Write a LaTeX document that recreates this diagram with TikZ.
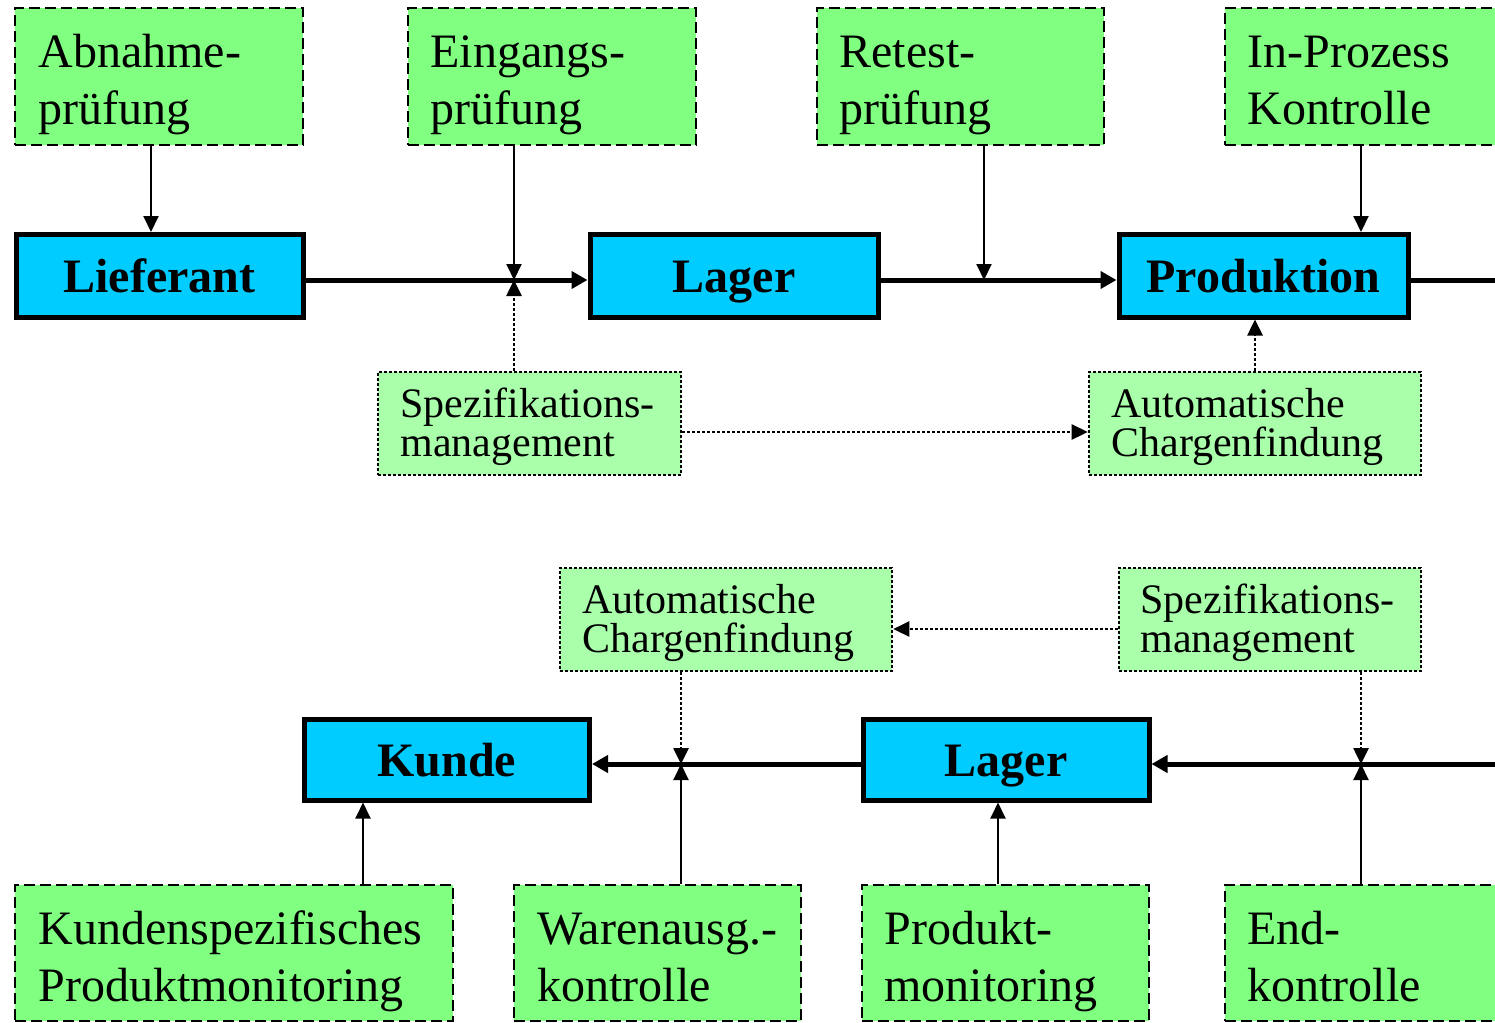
\documentclass[tikz,border=0pt]{standalone}
\usepackage{fontspec}
\setmainfont{Liberation Serif}
\usetikzlibrary{arrows.meta,fit}
\definecolor{gA}{HTML}{80FF80}
\definecolor{gB}{HTML}{AAFFAA}
\definecolor{bA}{HTML}{00CCFF}
\begin{document}
\begin{tikzpicture}[x=0.5pt,y=-0.5pt,
 gbox/.style={draw=black, fill=gA, line width=1.35pt, dash pattern=on 5.5pt off 2.5pt, inner sep=0pt},
 lbox/.style={draw=black, fill=gB, line width=1.3pt, dash pattern=on 1.35pt off 1.15pt, inner sep=0pt},
 bbox/.style={draw=black, fill=bA, line width=2.5pt, inner sep=0pt},
 btext/.style={inner sep=0pt, anchor=base, font=\fontsize{24}{28}\selectfont\bfseries},
 gtext/.style={inner sep=0pt, anchor=base west, align=left, text width=220pt, font=\fontsize{24}{28.5}\selectfont},
 ltext/.style={inner sep=0pt, anchor=base west, align=left, text width=170pt, font=\fontsize{21}{19.5}\selectfont},
 flow/.style={line width=2.5pt, -{Triangle[length=8pt,width=8.5pt]}},
 flowplain/.style={line width=2.5pt},
 arr/.style={line width=1pt, -{Triangle[length=8pt,width=7.5pt]}},
 darr/.style={line width=1.3pt, dash pattern=on 1.35pt off 1.15pt, -{Triangle[length=8pt,width=7.5pt]}},
]
\useasboundingbox (0,0) rectangle (1495,1023);
\clip (0,0) rectangle (1495,1023);

% helper coordinates
\coordinate (xA) at (151,0);
\coordinate (xI) at (1361,0);
\coordinate (xP) at (1255,0);
\coordinate (j1) at (514,280);
\coordinate (j2) at (984,280);
\coordinate (yS) at (0,432);
\coordinate (exitT) at (1510,280);
\coordinate (j3) at (681,764);
\coordinate (j4) at (1361,764);
\coordinate (xK) at (363,0);
\coordinate (xL) at (998,0);
\coordinate (yS2) at (0,629);
\coordinate (entB) at (1510,764);

% top row green
\node[gbox, fit={(15,8) (303,145)}] (abn) {};
\node[gtext] (abnT) at (38,67) {Abnahme-\\prüfung};
\node[gbox, fit={(408,8) (696,145)}] (ein) {};
\node[gtext] (einT) at (430,67) {Eingangs-\\prüfung};
\node[gbox, fit={(817,8) (1104,145)}] (ret) {};
\node[gtext] (retT) at (839,67) {Retest-\\prüfung};
\node[gbox, fit={(1225,8) (1530,145)}] (inp) {};
\node[gtext] (inpT) at (1247,67) {In-Prozess\\Kontrolle};

% top blue
\node[bbox, fit={(16,234.5) (303,317)}] (lief) {};
\node[btext] (liefT) at ([yshift=-8.5pt]lief.center) {Lieferant};
\node[bbox, fit={(590,234.5) (878,317)}] (lag1) {};
\node[btext] (lag1T) at ([yshift=-8.5pt]lag1.center) {Lager};
\node[bbox, fit={(1119,234.5) (1408,317)}] (prod) {};
\node[btext] (prodT) at ([yshift=-8.5pt]prod.center) {Produktion};

% top light green
\node[lbox, fit={(378,372) (681,475)}] (spz1) {};
\node[ltext] (spz1T) at (400,417) {Spezifikations-\\management};
\node[lbox, fit={(1089,372) (1421,475)}] (auto1) {};
\node[ltext] (auto1T) at (1111,417) {Automatische\\Chargenfindung};

% bottom light green
\node[lbox, fit={(560,568) (892,671)}] (auto2) {};
\node[ltext] (auto2T) at (582,613) {Automatische\\Chargenfindung};
\node[lbox, fit={(1119,568) (1421,671)}] (spz2) {};
\node[ltext] (spz2T) at (1140,613) {Spezifikations-\\management};

% bottom blue
\node[bbox, fit={(304,719) (589.5,800)}] (kunde) {};
\node[btext] (kundeT) at ([yshift=-8.5pt]kunde.center) {Kunde};
\node[bbox, fit={(863,719) (1149,800)}] (lag2) {};
\node[btext] (lag2T) at ([yshift=-8.5pt]lag2.center) {Lager};

% bottom green
\node[gbox, fit={(15,885) (453,1021)}] (kund) {};
\node[gtext] (kundT) at (38,944) {Kundenspezifisches\\Produktmonitoring};
\node[gbox, fit={(514,885) (801,1021)}] (ware) {};
\node[gtext] (wareT) at (537,944) {Warenausg.-\\kontrolle};
\node[gbox, fit={(862,885) (1149,1021)}] (pmon) {};
\node[gtext] (pmonT) at (884,944) {Produkt-\\monitoring};
\node[gbox, fit={(1225,885) (1530,1021)}] (endk) {};
\node[gtext] (endkT) at (1247,944) {End-\\kontrolle};

% top connectors
\draw[arr] (abn.south -| xA) -- (lief.north -| xA);
\draw[flow] (lief.east |- j1) -- (lag1.west |- j1);
\draw[arr] (ein.south -| j1) -- (j1);
\draw[darr] (spz1.north -| j1) -- (j1);
\draw[flow] (lag1.east |- j2) -- (prod.west |- j2);
\draw[arr] (ret.south -| j2) -- (j2);
\draw[arr] (inp.south -| xI) -- (prod.north -| xI);
\draw[flowplain] (prod.east |- exitT) -- (exitT);
\draw[darr] (spz1.east |- yS) -- (auto1.west |- yS);
\draw[darr] (auto1.north -| xP) -- (prod.south -| xP);

% bottom connectors
\draw[flow] (entB) -- (lag2.east |- entB);
\draw[flow] (lag2.west |- j3) -- (kunde.east |- j3);
\draw[darr] (spz2.west |- yS2) -- (auto2.east |- yS2);
\draw[darr] (auto2.south -| j3) -- (j3);
\draw[darr] (spz2.south -| j4) -- (j4);
\draw[arr] (ware.north -| j3) -- (j3);
\draw[arr] (endk.north -| j4) -- (j4);
\draw[arr] (kund.north -| xK) -- (kunde.south -| xK);
\draw[arr] (pmon.north -| xL) -- (lag2.south -| xL);
\end{tikzpicture}
\end{document}
